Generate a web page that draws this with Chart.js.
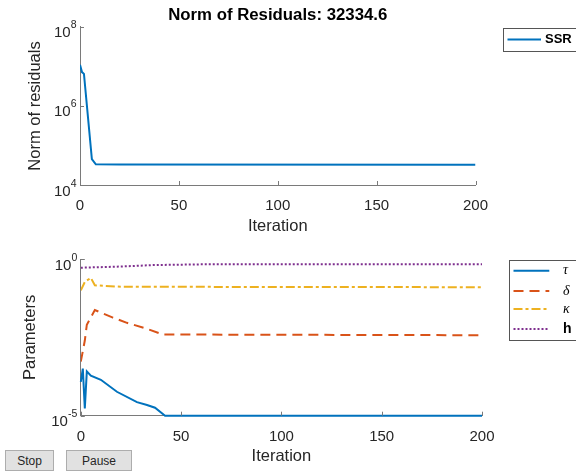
<!DOCTYPE html>
<html>
<head>
<meta charset="utf-8">
<script src="https://cdn.jsdelivr.net/npm/chart.js@4.4.1/dist/chart.umd.min.js"></script>
<style>
  body { margin: 0; background: #fff; width: 576px; height: 474px; overflow: hidden; position: relative; }
  #topChart { position: absolute; left: 0; top: 0; }
  #bottomChart { position: absolute; left: 0; top: 240px; }
  .btn { position: absolute; top: 450px; height: 21px; background: #e1e1e1; border: 1px solid #adadad;
         font: 12px "Liberation Sans", Arial, sans-serif; color: #262626; padding: 0; box-sizing: border-box; }
</style>
</head>
<body>
<canvas id="topChart" width="576" height="240"></canvas>
<canvas id="bottomChart" width="576" height="234"></canvas>
<button class="btn" style="left:5px;width:49px">Stop</button>
<button class="btn" style="left:66px;width:66px">Pause</button>
<script>
// iteration ticks and log-axis exponents
var iterTicks = [0, 50, 100, 150, 200];
var ssrTickExps = [4, 6, 8];
var paramTickExps = [-5, 0];

// sum of squared residuals
var ssrIter = [0, 1, 2, 6, 8, 20, 200];
var ssrVals = [1.1e7, 7.2e6, 6.5e6, 4.5e4, 3.35e4, 3.28e4, 32334.6];

// parameters
var tauIter = [0, 1, 2, 3, 5, 10, 18, 28, 33, 37, 42, 200];
var tauVals = [1.2e-4, 3.2e-4, 1.7e-5, 2.6e-4, 1.9e-4, 1.4e-4, 5.8e-5, 2.7e-5, 2.2e-5, 1.8e-5, 1e-5, 1e-5];
var deltaIter = [0, 2, 3, 7, 16, 23, 32, 41, 200];
var deltaVals = [5.3e-4, 2.5e-3, 8e-3, 2.35e-2, 1.35e-2, 9.2e-3, 6.2e-3, 3.9e-3, 3.7e-3];
var kappaIter = [0, 2, 5, 7, 20, 200];
var kappaVals = [0.1, 0.185, 0.25, 0.145, 0.13, 0.126];
var hIter = [0, 20, 36, 60, 200];
var hVals = [0.527, 0.575, 0.64, 0.675, 0.68];

var SANS = '"Liberation Sans", Arial, sans-serif';
var TXT = '#262626';
var AXIS = '#7a7a7a';

function pts(xs, ys) {
    return xs.map(function (x, i) { return {x: x, y: ys[i]}; });
}

// inward ticks, 10^n labels and a boxed legend, MATLAB style
var matlabLook = {
    id: 'matlabLook',
    afterDraw: function (chart, args, opts) {
        var ctx = chart.ctx;
        var xs = chart.scales.x, ys = chart.scales.y;
        ctx.save();
        ctx.strokeStyle = AXIS;
        ctx.lineWidth = 1;
        opts.xTicks.forEach(function (v) {
            var px = Math.round(xs.getPixelForValue(v)) + 0.5;
            ctx.beginPath(); ctx.moveTo(px, ys.bottom); ctx.lineTo(px, ys.bottom - 4); ctx.stroke();
        });
        ctx.fillStyle = TXT;
        ctx.textAlign = 'right';
        ctx.textBaseline = 'alphabetic';
        opts.yExps.forEach(function (e) {
            var py = ys.getPixelForValue(Math.pow(10, e));
            var ly = Math.round(py) + 0.5;
            ctx.beginPath(); ctx.moveTo(xs.left, ly); ctx.lineTo(xs.left + 4, ly); ctx.stroke();
            var right = xs.left - 3.5;
            ctx.font = '10.5px ' + SANS;
            var ex = String(e);
            ctx.fillText(ex, right, py + 1.5);
            var w = ctx.measureText(ex).width;
            ctx.font = '15px ' + SANS;
            ctx.fillText('10', right - w, py + 10.5);
        });

        var lg = opts.legend;
        ctx.strokeStyle = '#555';
        ctx.strokeRect(lg.x + 0.5, lg.y + 0.5, lg.w, lg.h);
        ctx.textAlign = 'left';
        ctx.textBaseline = 'middle';
        chart.data.datasets.forEach(function (ds, i) {
            var ry = lg.rows[i];
            ctx.strokeStyle = ds.borderColor;
            ctx.lineWidth = ds.borderWidth;
            ctx.setLineDash(ds.borderDash || []);
            ctx.beginPath(); ctx.moveTo(lg.x1, ry); ctx.lineTo(lg.x2, ry); ctx.stroke();
            ctx.setLineDash([]);
            ctx.fillStyle = '#000';
            ctx.font = ds.legendFont;
            ctx.fillText(ds.label, lg.tx, ry);
        });
        ctx.restore();
    }
};

function xAxis(height, titlePadBottom) {
    return {
        type: 'linear', min: 0, max: 200,
        grid: {display: false},
        border: {display: true, color: AXIS, width: 1},
        ticks: {stepSize: 50, color: TXT, font: {size: 15, family: SANS}, padding: 4, maxRotation: 0},
        title: {display: true, text: 'Iteration', color: TXT, font: {size: 16.5, family: SANS},
                padding: {top: 0, bottom: titlePadBottom}},
        afterFit: function (s) { s.height = height; }
    };
}

function yAxis(min, max, width, text, titlePadTop) {
    return {
        type: 'logarithmic', min: min, max: max,
        grid: {display: false},
        border: {display: true, color: AXIS, width: 1},
        ticks: {display: false},
        title: {display: true, text: text, color: TXT, font: {size: 16.5, family: SANS},
                padding: {top: titlePadTop, bottom: 0}},
        afterFit: function (s) { s.width = width; }
    };
}

new Chart(document.getElementById('topChart'), {
    type: 'line',
    data: {
        datasets: [{
            label: 'SSR', data: pts(ssrIter, ssrVals),
            borderColor: '#0072BD', borderWidth: 2, pointRadius: 0, tension: 0,
            legendFont: 'bold 13px ' + SANS
        }]
    },
    options: {
        responsive: false, animation: false,
        layout: {padding: {left: 0, right: 100.5, top: 0, bottom: 0}},
        scales: {
            x: xAxis(55, 3.5),
            y: yAxis(1e4, 1e8, 80, 'Norm of residuals', 25.2)
        },
        plugins: {
            legend: {display: false},
            tooltip: {enabled: false},
            title: {display: true, text: 'Norm of Residuals: 32334.6', fullSize: false, color: '#000',
                    font: {size: 16.8, weight: 'bold', family: SANS}, padding: {top: 5, bottom: 1.8}},
            matlabLook: {
                xTicks: iterTicks, yExps: ssrTickExps,
                legend: {x: 503, y: 28, w: 100, h: 23, rows: [39.5], x1: 507.5, x2: 541, tx: 545}
            }
        }
    },
    plugins: [matlabLook]
});

new Chart(document.getElementById('bottomChart'), {
    type: 'line',
    data: {
        datasets: [
            {label: 'τ', data: pts(tauIter, tauVals), borderColor: '#0072BD', borderWidth: 2,
             pointRadius: 0, tension: 0, clip: false, legendFont: 'italic 14px "Liberation Serif", serif'},
            {label: 'δ', data: pts(deltaIter, deltaVals), borderColor: '#D95319', borderWidth: 2,
             borderDash: [10, 6], pointRadius: 0, tension: 0, legendFont: 'italic 14px "Liberation Serif", serif'},
            {label: 'κ', data: pts(kappaIter, kappaVals), borderColor: '#EDB120', borderWidth: 2,
             borderDash: [9, 3, 3, 3], pointRadius: 0, tension: 0, legendFont: 'italic 14px "Liberation Serif", serif'},
            {label: 'h', data: pts(hIter, hVals), borderColor: '#7E2F8E', borderWidth: 2,
             borderDash: [2, 2], pointRadius: 0, tension: 0, legendFont: 'bold 14px ' + SANS}
        ]
    },
    options: {
        responsive: false, animation: false,
        layout: {padding: {left: 0, right: 94, top: 19, bottom: 0}},
        scales: {
            x: xAxis(58.3, 8),
            y: yAxis(1e-5, 1, 80.8, 'Parameters', 20.5)
        },
        plugins: {
            legend: {display: false},
            tooltip: {enabled: false},
            matlabLook: {
                xTicks: iterTicks, yExps: paramTickExps,
                legend: {x: 509, y: 20, w: 100, h: 80, rows: [30.7, 51, 69, 89], x1: 513.5, x2: 549.3, tx: 563}
            }
        }
    },
    plugins: [matlabLook]
});
</script>
</body>
</html>
